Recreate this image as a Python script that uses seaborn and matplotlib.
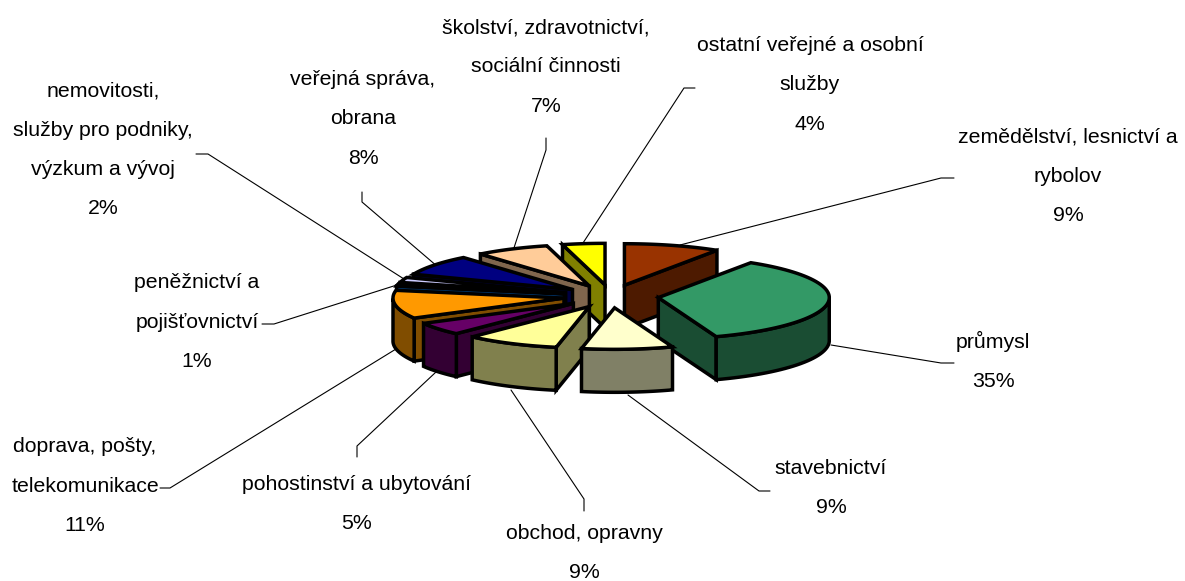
import numpy as np
import seaborn as sns
import matplotlib.pyplot as plt
from matplotlib.patches import Polygon

# odvetvi, podil v %
labels = ['zemědělství, lesnictví a\nrybolov', 'průmysl', 'stavebnictví', 'obchod, opravny',
          'pohostinství a ubytování', 'doprava, pošty,\ntelekomunikace', 'peněžnictví a\npojišťovnictví',
          'nemovitosti,\nslužby pro podniky,\nvýzkum a vývoj', 'veřejná správa,\nobrana',
          'školství, zdravotnictví,\nsociální činnosti', 'ostatní veřejné a osobní\nslužby']
values = [9.1, 35.4, 8.6, 8.9, 5, 11, 1, 2, 8, 7, 4]
colors = ['#993300', '#339966', '#FFFFCC', '#FFFF99', '#660066', '#FF9900', '#0066CC', '#CCCCFF',
          '#000080', '#FFCC99', '#FFFF00']

# popisky a vodici cary v pixelech obrazku
label_pos = [(1068, 176), (993, 361), (831, 488), (584, 553), (357, 504), (85, 486), (197, 322),
             (103, 150), (363, 119), (546, 67), (810, 85)]
leaders = [[(680, 245), (941, 178), (954, 178)],
           [(831, 345), (941, 363), (954, 363)],
           [(628, 395), (759, 491), (770, 491)],
           [(511, 390), (584, 499), (584, 511)],
           [(436, 372), (357, 446), (357, 457)],
           [(396, 349), (170, 488), (160, 488)],
           [(400, 284), (274, 324), (262, 324)],
           [(404, 279), (208, 154), (196, 154)],
           [(438, 267), (362, 202), (362, 192)],
           [(511, 257), (546, 150), (546, 138)],
           [(583, 243), (684, 88), (695, 88)]]

cx, cy = 611, 296.3
rx, ry = 171, 41.5
explode = 47.6
depth = 43

sns.set_theme(style='white')
plt.rcParams['font.family'] = ['Liberation Sans', 'DejaVu Sans']

fig, ax = plt.subplots(figsize=(11.85, 5.81), dpi=100)
fig.subplots_adjust(0, 0, 1, 1)
ax.set_xlim(0, 1185)
ax.set_ylim(581, 0)
ax.axis('off')

palette = sns.color_palette(colors)
edges = np.cumsum([0] + values) / sum(values) * 2 * np.pi


def point(ang, ox, oy):
    return ox + rx * np.sin(ang), oy - ry * np.cos(ang)


def draw_face(pts, color, z):
    ax.add_patch(Polygon(pts, closed=True, facecolor=color, edgecolor='black', linewidth=2.5,
                         joinstyle='miter', zorder=z))


for line in leaders:
    xs, ys = zip(*line)
    ax.plot(xs, ys, color='black', linewidth=0.8, zorder=1)

# od zadnich vysecí k prednim
mids = (edges[:-1] + edges[1:]) / 2
order = np.argsort(-np.cos(mids))
z = 2
for i in order:
    a0, a1, mid = edges[i], edges[i + 1], mids[i]
    ox = cx + explode * np.sin(mid)
    oy = cy - explode * ry / rx * np.cos(mid)
    top = palette[i]
    side = tuple(c * 0.5 for c in top)

    # radialni steny viditelne zepredu
    for ang, visible in ((a0, np.sin(a0) < -1e-6), (a1, np.sin(a1) > 1e-6)):
        if visible:
            px, py = point(ang, ox, oy)
            draw_face([(ox, oy), (px, py), (px, py + depth), (ox, oy + depth)], side, z)
            z += 1

    # vnejsi plast, jen predni cast
    arc = np.linspace(a0, a1, 60)
    front = arc[np.cos(arc) < 0]
    if len(front) > 1:
        xs, ys = point(front, ox, oy)
        draw_face(list(zip(xs, ys)) + list(zip(xs[::-1], ys[::-1] + depth)), side, z)
        z += 1

    xs, ys = point(arc, ox, oy)
    draw_face([(ox, oy)] + list(zip(xs, ys)), top, z)
    z += 1

for name, val, (x, y) in zip(labels, values, label_pos):
    ax.text(x, y, f'{name}\n{val:.0f}%', ha='center', va='center', fontsize=15.3, color='black',
            linespacing=2.34, zorder=50)

fig.savefig('out.png', dpi=100)
